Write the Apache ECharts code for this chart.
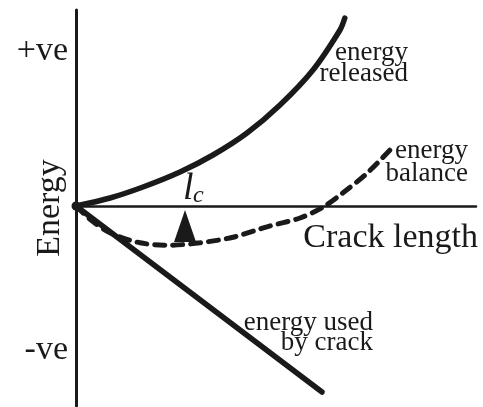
<!DOCTYPE html>
<html>
<head>
<meta charset="utf-8">
<script src="https://cdn.jsdelivr.net/npm/echarts@6/dist/echarts.min.js"></script>
<style>
  html, body { margin: 0; padding: 0; background: #fff; }
  #main { width: 483px; height: 407px; }
</style>
</head>
<body>
<div id="main"></div>
<script>
// curves, [crack length, energy]
var released = [[0, 0], [0.85, 0.2], [1.675, 0.475], [2.6, 0.85], [3.425, 1.275],
  [4.275, 1.825], [5.1, 2.525], [5.925, 3.4], [6.6, 4.4], [6.72, 4.7]];
var usedByCrack = [[0, 0], [6.15, -4.65]];
var balance = [[0, 0], [0.35, -0.33], [0.85, -0.67], [1.6, -0.92], [2.35, -0.98],
  [3.1, -0.92], [3.925, -0.78], [4.775, -0.52], [5.6, -0.3], [6.175, -0.03],
  [6.675, 0.33], [7.275, 0.82], [7.925, 1.48]];
var origin = [[0, 0]];
var criticalLength = [[2.725, -0.5]];
var yTicks = [3.875, -3.61];
var yTickLabels = ['+ve', '-ve'];

var ink = '#1a1a1a';
var serif = '"Liberation Serif", "DejaVu Serif", serif';

var chartDom = document.getElementById('main');
var myChart = echarts.init(chartDom);
var option;

option = {
  animation: false,
  grid: { left: 76, right: 7, top: 10, bottom: 1, containLabel: false, outerBoundsMode: 'none' },
  xAxis: {
    type: 'value', min: 0, max: 10,
    axisLine: { onZero: true, lineStyle: { color: ink, width: 2.5 } },
    axisTick: { show: false }, axisLabel: { show: false }, splitLine: { show: false }
  },
  yAxis: {
    type: 'value', min: -5, max: 4.9,
    name: 'Energy', nameLocation: 'middle', nameRotate: 90, nameGap: 9,
    nameMoveOverlap: false,
    nameTextStyle: { fontFamily: serif, fontSize: 34, color: ink },
    axisLine: { onZero: false, lineStyle: { color: ink, width: 3 } },
    axisTick: { show: false },
    splitLine: { show: false },
    axisLabel: {
      customValues: yTicks,
      margin: 8,
      fontFamily: serif, fontSize: 34, color: ink,
      formatter: function (v) { return yTickLabels[yTicks.indexOf(v)]; }
    }
  },
  series: [
    {
      name: 'energy released', type: 'line', data: released, smooth: 0.3,
      showSymbol: false, lineStyle: { color: ink, width: 5.5, cap: 'round' }
    },
    {
      name: 'energy used by crack', type: 'line', data: usedByCrack,
      showSymbol: false, lineStyle: { color: ink, width: 5.5, cap: 'round' }
    },
    {
      name: 'energy balance', type: 'line', data: balance, smooth: 0.3,
      showSymbol: false, lineStyle: { color: ink, width: 5, type: [10, 8], cap: 'round' }
    },
    {
      type: 'scatter', data: origin, symbol: 'circle', symbolSize: 9,
      itemStyle: { color: ink, opacity: 1 }
    },
    {
      type: 'scatter', data: criticalLength, symbol: 'triangle', symbolSize: [22, 32],
      itemStyle: { color: ink, opacity: 1 }, z: 5
    }
  ],
  graphic: [
    { type: 'text', x: 408, y: 53, style: { text: 'energy', align: 'right', verticalAlign: 'middle', font: '27px ' + serif, fill: ink } },
    { type: 'text', x: 408, y: 74, style: { text: 'released', align: 'right', verticalAlign: 'middle', font: '27px ' + serif, fill: ink } },
    { type: 'text', x: 468, y: 151, style: { text: 'energy', align: 'right', verticalAlign: 'middle', font: '27px ' + serif, fill: ink } },
    { type: 'text', x: 468, y: 174, style: { text: 'balance', align: 'right', verticalAlign: 'middle', font: '27px ' + serif, fill: ink } },
    { type: 'text', x: 373, y: 323, style: { text: 'energy used', align: 'right', verticalAlign: 'middle', font: '27px ' + serif, fill: ink } },
    { type: 'text', x: 373, y: 343, style: { text: 'by crack', align: 'right', verticalAlign: 'middle', font: '27px ' + serif, fill: ink } },
    { type: 'text', x: 478, y: 238, style: { text: 'Crack length', align: 'right', verticalAlign: 'middle', font: '34px ' + serif, fill: ink } },
    { type: 'text', x: 183, y: 189, style: { text: 'l', align: 'left', verticalAlign: 'middle', font: 'italic 38px ' + serif, fill: ink } },
    { type: 'text', x: 193, y: 196, style: { text: 'c', align: 'left', verticalAlign: 'middle', font: 'italic 24px ' + serif, fill: ink } }
  ]
};

option && myChart.setOption(option);
</script>
</body>
</html>
